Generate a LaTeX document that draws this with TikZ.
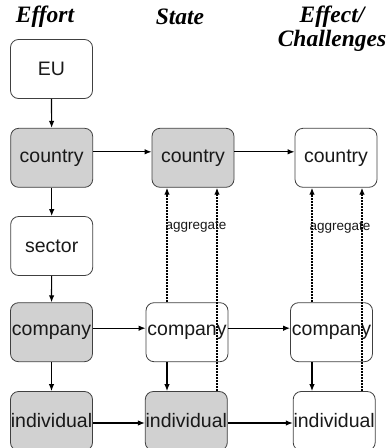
\documentclass[tikz,border=0pt]{standalone}
\usepackage{fontspec}
\setmainfont{Liberation Sans}
\newfontfamily\headfont{Liberation Serif}
\usetikzlibrary{calc}
\usetikzlibrary{arrows.meta}
\tikzset{
  level/.style={draw=black!75, line width=0.8pt, rounded corners=8pt,
    minimum width=82pt, minimum height=59pt, inner sep=0pt,
    text=black!90, font=\fontsize{19.5}{19.5}\selectfont},
  shaded/.style={level, fill=black!18},
  head/.style={font=\headfont\bfseries\itshape\fontsize{23.5}{24}\selectfont, align=center},
  link/.style={line width=1.2pt, -{Latex[length=7pt,width=5.5pt]}},
  aggr/.style={line width=1.3pt, dash pattern=on 1pt off 0.5pt, -{Latex[length=7pt,width=5.5pt]}},
  agtext/.style={font=\fontsize{13.5}{13.5}\selectfont, text=black!90}
}
\begin{document}
\begin{tikzpicture}[x=1pt,y=-1pt]
      \useasboundingbox (0,0) rectangle (387,448);
      \node[head] (hEffort) at (45,17) {Effort};
      \node[head] (hState) at (180,17) {State};
      \node[head] (hEffect) at (332,29) {Effect/\\Challenges};

      \node[level] (eu) at (51.5,69) {EU};
      \node[shaded] (country1) at (51.7,157.8) {country};
      \node[shaded] (country2) at (193,157.8) {country};
      \node[level] (country3) at (336,157.8) {country};
      \node[level] (sector) at (51.7,246) {sector};
      \node[shaded] (company1) at (51.5,332.2) {company};
      \node[level] (company2) at (187,332.2) {company};
      \node[level] (company3) at (331.5,332.2) {company};
      \node[shaded] (individual1) at (51.5,421) {individual};
      \node[shaded] (individual2) at (186.3,421) {individual};
      \node[level] (individual3) at (334.2,421) {individual};

      \draw[link] (eu) -- (country1);
      \draw[link] (country1) -- (sector);
      \draw[link] (sector) -- (company1);
      \draw[link] (company1) -- (individual1);
      \foreach \a/\b/\s in {country1/country2/6,country2/country3/6,
                           company1/company2/4,company2/company3/4,
                           individual1/individual2/-2,individual2/individual3/-2} {
        \draw[link] ([yshift=\s pt]\a.east) -- ([yshift=\s pt]\b.west);
      }

      \coordinate (up2l) at (167,0);
      \coordinate (up2r) at (217,0);
      \coordinate (up3l) at (312,0);
      \coordinate (up3r) at (362,0);
      \draw[link] (up2l |- company2.south) -- (up2l |- individual2.north);
      \draw[link] (up3l |- company3.south) -- (up3l |- individual3.north);
      \draw[aggr] (up2l |- company2.north) -- (up2l |- country2.south);
      \draw[aggr] (up2r |- individual2.north) -- (up2r |- country2.south);
      \draw[aggr] (up3l |- company3.north) -- (up3l |- country3.south);
      \draw[aggr] (up3r |- individual3.north) -- (up3r |- country3.south);
      \node[agtext] (agg2) at (196,227) {aggregate};
      \node[agtext] (agg3) at (340,228) {aggregate};
\end{tikzpicture}
\end{document}
